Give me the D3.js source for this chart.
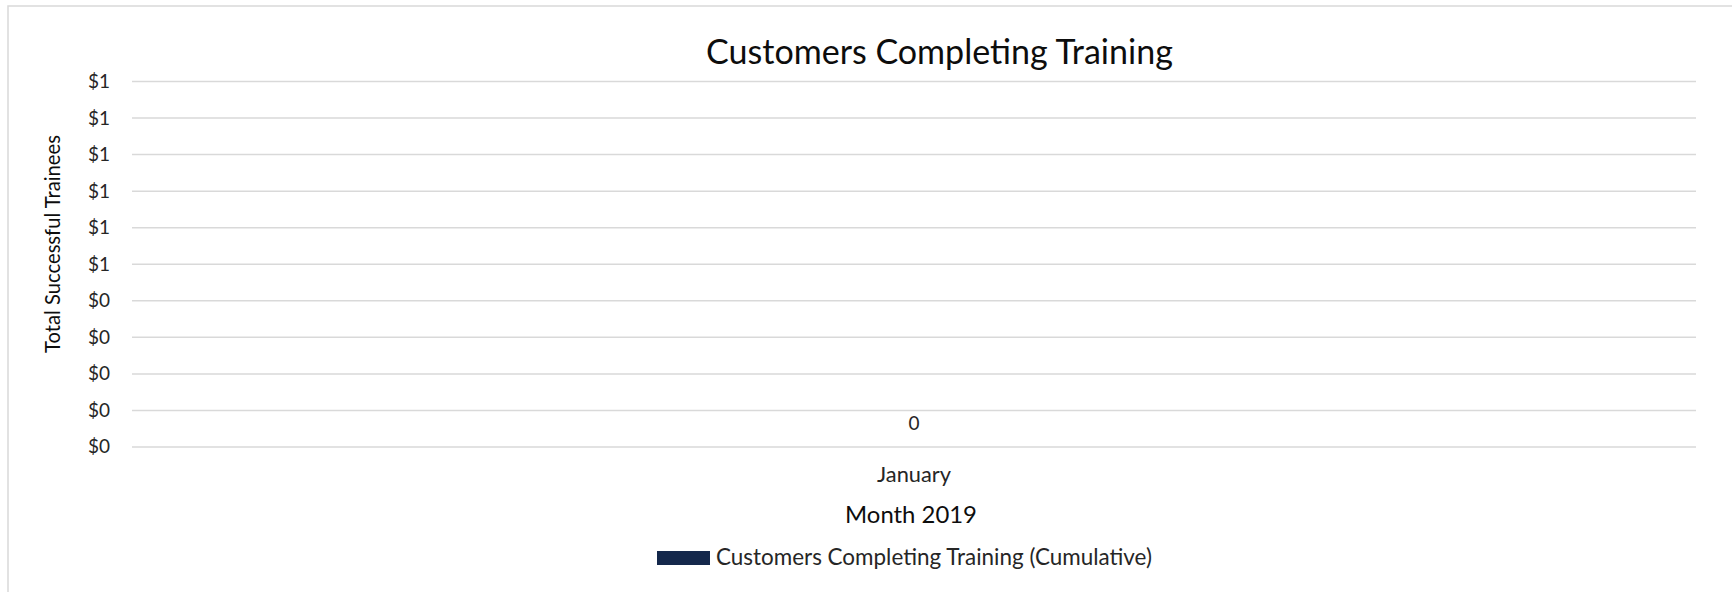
<!DOCTYPE html>
<html>
<head>
<meta charset="utf-8">
<script src="https://cdn.jsdelivr.net/npm/d3@7"></script>
<style>
  html, body { margin: 0; padding: 0; background: #ffffff; }
  svg { display: block; }
  text { font-family: Lato, "Open Sans", sans-serif; }
</style>
</head>
<body>
<svg id="chart" width="1732" height="592"></svg>
<script>
// Chart data
const months = ["January"];
const cumulativeTrainees = [0];
const yTickValues = [0, 0.1, 0.2, 0.3, 0.4, 0.5, 0.6, 0.7, 0.8, 0.9, 1.0];
const yTickLabels = ["$0", "$0", "$0", "$0", "$0", "$1", "$1", "$1", "$1", "$1", "$1"];

const chartTitle = "Customers Completing Training";
const yAxisTitle = "Total Successful Trainees";
const xAxisTitle = "Month 2019";
const seriesName = "Customers Completing Training (Cumulative)";

const W = 1732, H = 592;
const plot = { left: 132, right: 1696, top: 81, bottom: 446.5 };
const barColor = "#14284b";
const gridColor = "#d9d9d9";
const textColor = "#262626";

const svg = d3.select("#chart");

// Scale a text element's font size so it spans the requested width
function fitWidth(sel, target) {
  const base = 100;
  sel.style("font-size", base + "px");
  const w = sel.node().getComputedTextLength();
  sel.style("font-size", (base * target / w) + "px");
  return sel;
}

// Outer chart frame
svg.append("path")
  .attr("d", `M8,${H} V6 H${W}`)
  .attr("fill", "none")
  .attr("stroke", gridColor)
  .attr("stroke-width", 1.5);

const x = d3.scaleBand()
  .domain(months)
  .range([plot.left, plot.right])
  .paddingInner(0.5)
  .paddingOuter(0.25);

const y = d3.scaleLinear()
  .domain([0, 1])
  .range([plot.bottom, plot.top]);

// Horizontal gridlines with currency tick labels
const yAxis = d3.axisLeft(y)
  .tickValues(yTickValues)
  .tickSize(-(plot.right - plot.left))
  .tickPadding(22)
  .tickFormat((d, i) => yTickLabels[i]);

const gy = svg.append("g")
  .attr("transform", `translate(${plot.left},0)`)
  .call(yAxis);
gy.select(".domain").remove();
gy.selectAll(".tick line")
  .attr("stroke", gridColor)
  .attr("stroke-width", 1.5);
gy.selectAll(".tick text")
  .attr("fill", textColor)
  .style("font-size", "19px")
  .attr("dy", "0.34em");

// Bars
const data = months.map((m, i) => ({ month: m, value: cumulativeTrainees[i] }));
svg.append("g").selectAll("rect")
  .data(data)
  .join("rect")
  .attr("x", d => x(d.month))
  .attr("width", x.bandwidth())
  .attr("y", d => y(d.value))
  .attr("height", d => y(0) - y(d.value))
  .attr("fill", barColor);

// Value labels above each bar
svg.append("g").selectAll("text")
  .data(data)
  .join("text")
  .attr("x", d => x(d.month) + x.bandwidth() / 2)
  .attr("y", d => y(d.value) - 16.5)
  .attr("text-anchor", "middle")
  .attr("fill", textColor)
  .style("font-size", "19px")
  .text(d => d.value);

// Category labels
const cats = svg.append("g").selectAll("text")
  .data(months)
  .join("text")
  .attr("x", d => x(d) + x.bandwidth() / 2)
  .attr("y", y(0) + 35.5)
  .attr("text-anchor", "middle")
  .attr("fill", textColor)
  .text(d => d);
cats.each(function () { fitWidth(d3.select(this), 74); });

// Chart title
const title = svg.append("text")
  .attr("x", 939.5)
  .attr("y", 64)
  .attr("text-anchor", "middle")
  .attr("fill", "#0d0d0d")
  .text(chartTitle);
fitWidth(title, 467);

// Axis titles
const xt = svg.append("text")
  .attr("x", 911)
  .attr("y", 522.5)
  .attr("text-anchor", "middle")
  .attr("fill", "#0d0d0d")
  .text(xAxisTitle);
fitWidth(xt, 132);

const yt = svg.append("text")
  .attr("transform", "translate(60,244) rotate(-90)")
  .attr("text-anchor", "middle")
  .attr("fill", "#0d0d0d")
  .text(yAxisTitle);
fitWidth(yt, 218);

// Legend
const legend = svg.append("g").attr("transform", "translate(657,551)");
legend.append("rect")
  .attr("width", 53)
  .attr("height", 14)
  .attr("fill", barColor);
const lt = legend.append("text")
  .attr("x", 59)
  .attr("y", 13.5)
  .attr("fill", textColor)
  .text(seriesName);
fitWidth(lt, 436);
</script>
</body>
</html>
